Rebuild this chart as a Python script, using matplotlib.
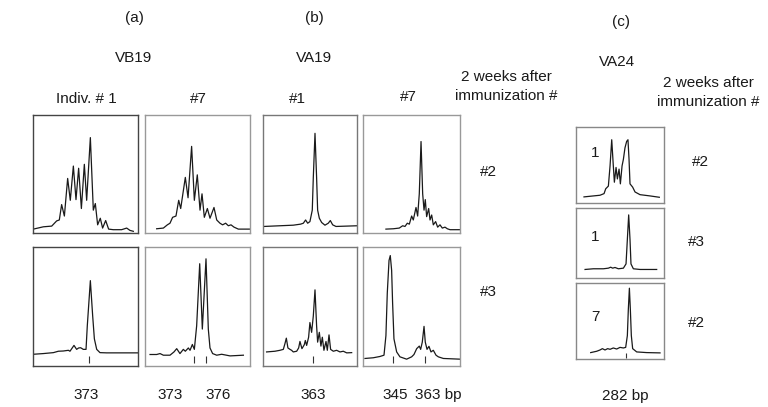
import matplotlib
matplotlib.use("Agg")
import matplotlib.pyplot as plt

W, H = 768, 407
plt.rcParams['font.family'] = ['Liberation Sans', 'DejaVu Sans']

# ---------------- data (x: relative fragment-size position, y: relative intensity, both 0-100) ----
vb19_1_w2_x = [0.6, 10.1, 18.0, 22.7, 25.2, 27.4, 30.0, 33.1, 35.6, 38.5, 41.0, 43.5, 46.1, 48.9, 51.1,
               54.6, 57.4, 59.3, 61.5, 64.0, 66.2, 69.1, 71.9, 76.3, 84.2, 89.0, 92.1, 95.3]
vb19_1_w2_y = [1.1, 3.1, 3.7, 8.2, 9.0, 22.3, 12.4, 44.9, 26.0, 55.6, 26.6, 53.7, 18.9, 57.1, 26.0,
               80.2, 17.5, 23.2, 4.8, 10.5, 2.0, 8.5, 1.1, 0.6, 0.6, 2.0, 0.0, -0.8]

vb19_7_w2_x = [11.1, 17.5, 21.3, 23.8, 26.3, 29.5, 32.1, 34.0, 38.4, 41.0, 44.4, 47.0, 49.8, 52.4, 54.3,
               56.5, 59.4, 61.9, 65.7, 68.3, 71.4, 73.9, 76.8, 79.4, 81.9, 84.8, 88.9, 100]
vb19_7_w2_y = [1.4, 2.0, 4.8, 6.2, 11.3, 12.4, 26.0, 18.9, 45.8, 28.2, 72.6, 26.0, 48.0, 17.5, 31.6,
               11.3, 18.9, 10.5, 19.8, 9.0, 6.2, 4.8, 6.2, 4.0, 4.8, 2.8, 1.1, 1.1]

vb19_1_w3_x = [0.6, 10.1, 19.6, 24.3, 29.0, 33.8, 35.3, 39.1, 41.6, 43.5, 45.4, 47.9, 50.5, 51.7, 54.6,
               56.8, 58.4, 60.6, 63.7, 70.0, 100]
vb19_1_w3_y = [7.8, 8.4, 9.2, 10.4, 10.6, 11.2, 10.4, 15.4, 12.0, 13.2, 13.4, 12.0, 12.0, 32.2, 70.9,
               40.6, 21.0, 12.0, 9.2, 9.0, 9.0]

vb19_7_w3_x = [4.8, 11.1, 14.3, 17.5, 23.8, 27.6, 30.2, 33.3, 36.5, 38.4, 41.3, 42.9, 45.1, 47.0, 49.2,
               52.1, 54.6, 58.1, 60.3, 61.9, 64.4, 68.3, 73.0, 81.0, 93.7]
vb19_7_w3_y = [7.6, 7.6, 8.4, 7.0, 7.0, 9.8, 12.6, 8.4, 12.0, 10.4, 13.2, 11.2, 16.2, 12.0, 32.2,
               85.4, 29.4, 89.6, 29.4, 13.2, 8.4, 7.0, 7.8, 6.4, 7.0]

va19_1_w2_x = [0.7, 17.7, 31.9, 39.7, 42.6, 45.0, 47.2, 49.6, 52.1, 53.2, 55.0, 56.7, 57.8, 59.6, 62.1,
               65.6, 69.1, 71.3, 73.8, 77.3, 100]
va19_1_w2_y = [3.4, 4.0, 4.5, 5.4, 6.2, 9.0, 6.2, 7.6, 17.5, 45.8, 83.9, 45.8, 17.5, 10.5, 6.8,
               4.5, 6.2, 8.5, 4.8, 3.4, 4.0]

va19_7_w2_x = [23.4, 31.0, 37.2, 40.7, 43.1, 45.5, 47.6, 50.0, 51.7, 54.5, 56.2, 57.9, 59.7, 61.4, 62.8,
               64.1, 65.5, 67.6, 69.0, 70.7, 72.4, 74.8, 76.9, 79.3, 81.7, 84.5, 86.9, 89.7, 100]
va19_7_w2_y = [1.1, 1.4, 2.0, 4.0, 3.4, 6.2, 5.4, 12.4, 9.0, 19.8, 12.4, 31.6, 76.8, 31.6, 17.5,
               26.6, 11.9, 18.9, 9.0, 13.3, 4.8, 7.6, 2.8, 4.8, 2.0, 2.8, 1.4, 0.6, 0.6]

va19_1_w3_x = [3.5, 12.4, 17.7, 21.3, 23.0, 24.5, 26.2, 28.4, 30.1, 31.9, 35.5, 37.6, 39.0, 41.1, 43.6,
               44.7, 46.1, 48.2, 49.6, 51.4, 53.2, 55.0, 56.7, 57.8, 59.6, 61.3, 62.8, 64.5, 66.7, 68.1,
               69.9, 71.6, 74.5, 78.0, 81.6, 85.1, 88.7, 94.0]
va19_1_w3_y = [9.8, 10.4, 11.2, 12.0, 16.8, 21.6, 13.2, 12.0, 11.2, 9.8, 10.4, 13.2, 18.8, 12.6, 16.0,
               19.6, 15.4, 22.4, 35.0, 26.6, 40.6, 63.0, 32.2, 18.2, 26.6, 14.8, 22.4, 11.2, 18.8, 11.2,
               24.4, 12.0, 10.4, 11.2, 9.8, 10.4, 9.0, 9.2]

va19_7_w3_x = [1.7, 10.3, 17.2, 21.4, 23.4, 24.8, 26.6, 27.9, 29.3, 30.3, 31.7, 34.5, 37.9, 44.8, 50.0,
               52.4, 55.2, 57.9, 59.3, 61.0, 62.8, 64.1, 65.9, 67.9, 70.0, 72.4, 75.2, 77.6, 82.8, 100]
va19_7_w3_y = [4.2, 4.8, 5.9, 7.0, 23.8, 60.2, 88.2, 92.4, 79.8, 51.8, 21.0, 9.8, 5.6, 3.6, 5.6,
               7.6, 12.6, 14.8, 12.0, 18.2, 31.7, 18.2, 12.0, 14.6, 9.8, 11.2, 7.0, 5.6, 4.2, 3.6]

va24_1_w2_x = [9.4, 20.0, 27.5, 32.1, 34.0, 37.0, 38.9, 40.8, 42.6, 43.8, 45.7, 47.2, 49.1, 50.6, 52.5,
               54.0, 55.8, 57.7, 59.2, 60.4, 61.5, 64.5, 67.2, 72.8, 84.2, 94.7]
va24_1_w2_y = [6.6, 7.9, 8.8, 11.0, 17.5, 21.1, 48.2, 83.3, 48.2, 26.3, 46.1, 30.7, 43.9, 24.1, 48.2,
               57.0, 72.4, 81.1, 83.3, 57.0, 24.1, 19.7, 13.2, 9.6, 7.9, 6.1]

va24_1_w3_x = [10.6, 20.0, 31.3, 37.0, 39.6, 41.9, 44.5, 48.3, 54.0, 57.0, 58.5, 60.0, 61.5, 62.6, 65.3,
               72.8, 91.7]
va24_1_w3_y = [10.0, 11.0, 11.0, 11.9, 13.3, 11.9, 12.9, 11.0, 11.9, 18.1, 53.8, 89.5, 53.8, 18.1, 11.0,
               10.0, 10.0]

va24_7_w2_x = [17.0, 23.8, 27.5, 30.2, 33.2, 36.2, 38.9, 42.6, 46.4, 50.2, 54.0, 56.6, 58.5, 59.6, 60.8,
               61.9, 63.0, 64.5, 69.1, 80.4, 95.5]
va24_7_w2_y = [7.0, 8.8, 10.5, 12.3, 10.5, 12.3, 11.4, 13.2, 11.8, 14.0, 13.2, 14.0, 29.8, 64.9, 93.4,
               64.9, 29.8, 12.3, 7.9, 7.0, 6.6]

# size markers (positions on the same relative axis)
ticks_vb19_1 = [53.0]
ticks_vb19_7 = [46.3, 58.4]
ticks_va19_1 = [52.5]
ticks_va19_7 = [31.0, 63.4]
ticks_va24_7 = [56.6]

size_labels_vb19_1 = ["373"]
size_labels_vb19_7 = ["373", "376"]
size_labels_va19_1 = ["363"]
size_labels_va19_7 = ["345", "363 bp"]
size_labels_va24 = ["282 bp"]

fig = plt.figure(figsize=(W / 100, H / 100), dpi=100)


def panel(x0, y0, x1, y1, xs, ys, ticks=None, edge='#888888'):
    ax = fig.add_axes([x0 / W, 1 - y1 / H, (x1 - x0) / W, (y1 - y0) / H])
    ax.plot(xs, ys, color='#1a1a1a', lw=0.9)
    if ticks:
        ax.vlines(ticks, 0, 6, color='#333333', lw=0.8)
    ax.set_xlim(0, 100)
    ax.set_ylim(-2, 100)
    ax.set_xticks([])
    ax.set_yticks([])
    for s in ax.spines.values():
        s.set_color(edge)
        s.set_linewidth(1.0)
    return ax


r1 = (114.7, 232.7)
r2 = (246.7, 365.7)
panel(32.7, r1[0], 138.3, r1[1], vb19_1_w2_x, vb19_1_w2_y, edge='#444444')
panel(145.0, r1[0], 250.0, r1[1], vb19_7_w2_x, vb19_7_w2_y, edge='#999999')
panel(32.7, r2[0], 138.3, r2[1], vb19_1_w3_x, vb19_1_w3_y, ticks_vb19_1, edge='#444444')
panel(145.0, r2[0], 250.0, r2[1], vb19_7_w3_x, vb19_7_w3_y, ticks_vb19_7, edge='#999999')
panel(263.3, r1[0], 357.3, r1[1], va19_1_w2_x, va19_1_w2_y, edge='#777777')
panel(363.3, r1[0], 460.0, r1[1], va19_7_w2_x, va19_7_w2_y, edge='#999999')
panel(263.3, r2[0], 357.3, r2[1], va19_1_w3_x, va19_1_w3_y, ticks_va19_1, edge='#777777')
panel(363.3, r2[0], 460.0, r2[1], va19_7_w3_x, va19_7_w3_y, ticks_va19_7, edge='#999999')
panel(575.7, 127.3, 664.0, 203.3, va24_1_w2_x, va24_1_w2_y, edge='#888888')
panel(575.7, 207.7, 664.0, 277.7, va24_1_w3_x, va24_1_w3_y, edge='#888888')
panel(575.7, 283.3, 664.0, 359.3, va24_7_w2_x, va24_7_w2_y, ticks_va24_7, edge='#888888')


def txt(x, y, s, size=11, ha='center'):
    fig.text(x / W, 1 - y / H, s, ha=ha, va='center', fontsize=size, color='#1a1a1a')


# headers
txt(134, 18, "(a)")
txt(314, 18, "(b)")
txt(621, 22, "(c)")
txt(134, 58, "VB19")
txt(314, 58, "VA19")
txt(617, 62, "VA24")
txt(86, 99, "Indiv. # 1")
txt(198, 99, "#7")
txt(297, 99, "#1")
txt(408, 97, "#7")
txt(506, 77, "2 weeks after")
txt(506, 96, "immunization #")
txt(708, 83, "2 weeks after")
txt(708, 102, "immunization #")

# row labels
txt(488, 172, "#2")
txt(488, 292, "#3")
txt(700, 162, "#2")
txt(696, 242, "#3")
txt(696, 323, "#2")
txt(595, 153, "1")
txt(595, 237, "1")
txt(595, 317, "7")

# size labels
txt(86, 395, size_labels_vb19_1[0])
txt(170, 395, size_labels_vb19_7[0])
txt(218, 395, size_labels_vb19_7[1])
txt(313, 395, size_labels_va19_1[0])
txt(395, 395, size_labels_va19_7[0])
txt(438, 395, size_labels_va19_7[1])
txt(625, 396, size_labels_va24[0])

fig.savefig("out.png", dpi=100)
